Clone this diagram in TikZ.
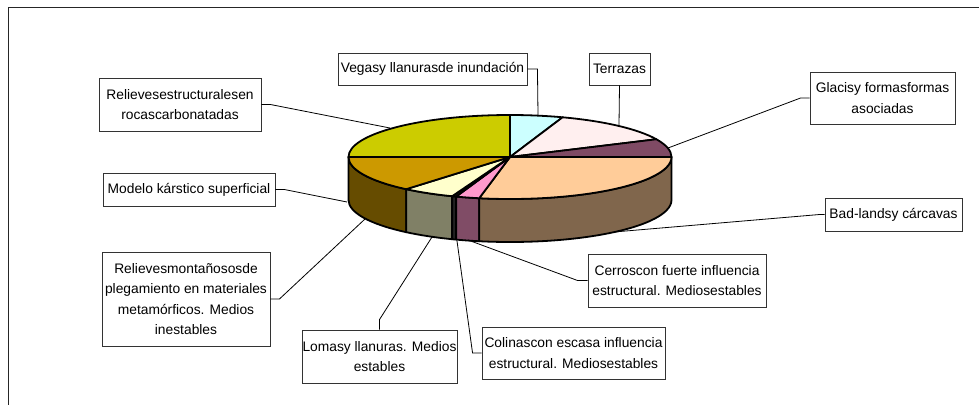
\documentclass[tikz,border=0pt]{standalone}
\usepackage{fontspec}
\setmainfont{Liberation Sans}
\definecolor{cVegas}{HTML}{CCFFFF}
\definecolor{cTerr}{HTML}{FFEFEF}
\definecolor{cGlac}{HTML}{7F4A64}
\definecolor{cBad}{HTML}{FFCC99}
\definecolor{cBadS}{HTML}{80664C}
\definecolor{cCerr}{HTML}{FF99CC}
\definecolor{cCerrS}{HTML}{804C66}
\definecolor{cColi}{HTML}{222222}
\definecolor{cLom}{HTML}{FFFFCC}
\definecolor{cLomS}{HTML}{808066}
\definecolor{cMont}{HTML}{CC9900}
\definecolor{cMontS}{HTML}{664C00}
\definecolor{cEstr}{HTML}{CCCC00}
\newcommand\pietop[3]{\filldraw[pieedge, fill=#1] (510,157) -- ({510+161.5*cos(#2)},{157+42*sin(#2)}) arc[start angle=#2, end angle=#3, x radius=161.5, y radius=42] -- cycle;}
\newcommand\pieside[3]{\filldraw[pieedge, fill=#1] ({510+161.5*cos(#2)},{157+42*sin(#2)}) -- ({510+161.5*cos(#2)},{200+42*sin(#2)}) arc[start angle=#2, end angle=#3, x radius=161.5, y radius=42] -- ({510+161.5*cos(#3)},{157+42*sin(#3)}) arc[start angle=#3, end angle=#2, x radius=161.5, y radius=42] -- cycle;}
\begin{document}
\begin{tikzpicture}[x=1pt,y=-1pt,
  lbl/.style={draw=black!80, line width=0.9pt, fill=white, inner sep=0pt, align=center, font=\fontsize{13.8}{20.5}\selectfont},
  leader/.style={draw=black, line width=0.8pt},
  pieedge/.style={draw=black, line width=1.8pt, line join=round}]
\useasboundingbox (0,0) rectangle (979,405);
\draw[line width=1.5pt, black!85] (979,7.5) -- (8.5,7.5) -- (8.5,405);
% pie sides
\pieside{cMontS}{130}{180}
\pieside{cLomS}{111}{130}
\pieside{cColi}{109.5}{111}
\pieside{cCerrS}{101}{109.5}
\pieside{cBadS}{0}{101}
% pie top
\pietop{cEstr}{180}{270}
\pietop{cVegas}{-90}{-71}
\pietop{cTerr}{-71}{-25}
\pietop{cGlac}{-25}{0}
\pietop{cBad}{0}{101}
\pietop{cCerr}{101}{109.5}
\pietop{cColi}{109.5}{111}
\pietop{cLom}{111}{130}
\pietop{cMont}{130}{180}
% leader ends
\coordinate (pEstr) at (390,128);
\coordinate (pMod) at (347,202);
\coordinate (pVeg) at (538,115);
\coordinate (pTer) at (619,125);
\coordinate (pGla) at (668,148);
\coordinate (pBad) at (614,232);
\coordinate (pCer) at (468,240);
\coordinate (pCol) at (457,241);
\coordinate (pLom) at (432,237);
\coordinate (pMon) at (365,219);
% labels
\node[lbl, minimum width=162pt, minimum height=53pt] (estr) at (180,104.5) {Relievesestructuralesen\\rocascarbonatadas};
\node[lbl, minimum width=172pt, minimum height=33pt] (mod) at (189,189.5) {Modelo kárstico superficial};
\node[lbl, minimum width=189pt, minimum height=32pt] (veg) at (432.5,69) {Vegasy llanurasde inundación};
\node[lbl, minimum width=61pt, minimum height=32pt] (ter) at (619.5,69) {Terrazas};
\node[lbl, minimum width=145pt, minimum height=52pt] (gla) at (882.5,98) {Glacisy formasformas\\asociadas};
\node[lbl, minimum width=137pt, minimum height=33pt] (bad) at (893.5,214.5) {Bad-landsy cárcavas};
\node[lbl, minimum width=178pt, minimum height=53pt] (cer) at (677,280.5) {Cerroscon fuerte influencia\\estructural. Mediosestables};
\node[lbl, minimum width=183pt, minimum height=52pt] (col) at (573.5,353) {Colinascon escasa influencia\\estructural. Mediosestables};
\node[lbl, minimum width=155pt, minimum height=53pt] (lom) at (379.5,356.5) {Lomasy llanuras. Medios\\estables};
\node[lbl, minimum width=168pt, minimum height=94pt] (mon) at (186,299) {Relievesmontañososde\\plegamiento en materiales\\metamórficos. Medios\\inestables};
% leaders
\draw[leader] (estr.east) -- ++(9,0) -- (pEstr);
\draw[leader] (mod.east) -- ++(9,0) -- (pMod);
\draw[leader] (veg.east) -- ++(10,0) -- (pVeg);
\draw[leader] (ter.south) -- (pTer);
\draw[leader] (gla.west) -- ++(-9,0) -- (pGla);
\draw[leader] (bad.west) -- ++(-5,0) -- (pBad);
\draw[leader] (cer.west) -- ++(-10,0) -- (pCer);
\draw[leader] (col.west) -- ++(-9,0) -- (pCol);
\draw[leader] (lom.north) -- ++(0,-10) -- (pLom);
\draw[leader] (mon.east) -- ++(9,0) -- (pMon);
\end{tikzpicture}
\end{document}
